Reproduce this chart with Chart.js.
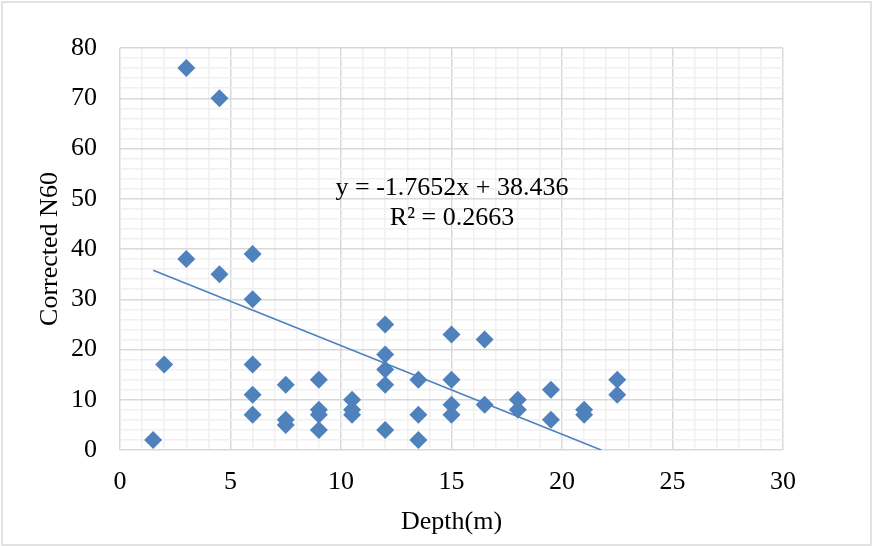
<!DOCTYPE html>
<html>
<head>
<meta charset="utf-8">
<script src="https://cdn.jsdelivr.net/npm/chart.js@4/dist/chart.umd.min.js"></script>
<style>
  html,body{margin:0;padding:0;background:#fff;}
  canvas{display:block;}
</style>
</head>
<body>
<canvas id="c" width="873" height="546"></canvas>
<script>
// Depth (m) vs corrected N60
const depth = [1.5, 2, 3, 3, 4.5, 4.5, 6, 6, 6, 6, 6, 7.5, 7.5, 7.5, 9, 9, 9, 9,
  10.5, 10.5, 10.5, 12, 12, 12, 12, 12, 13.5, 13.5, 13.5, 15, 15, 15, 15,
  16.5, 16.5, 18, 18, 19.5, 19.5, 21, 21, 22.5, 22.5];
const n60 = [2, 17, 76, 38, 70, 35, 39, 30, 17, 11, 7, 13, 6, 5, 14, 8, 7, 4,
  10, 8, 7, 25, 19, 16, 13, 4, 14, 7, 2, 23, 14, 9, 7,
  22, 9, 10, 8, 12, 6, 8, 7, 14, 11];

// trendline as printed on the chart
const slope = -1.7652, intercept = 38.436;
const trendX = [1.5, -intercept / slope];
const eqLines = ['y = -1.7652x + 38.436', 'R\u00b2 = 0.2663'];

const BLUE = '#4f81bd';
const FONT = "'Liberation Serif', 'Times New Roman', serif";
const MAJOR = '#d9d9d9', MINOR = '#f0f0f0';

const points = depth.map((x,i)=>({x, y:n60[i]}));
const trend = trendX.map(x=>({x, y: slope*x + intercept}));

// white background + outer frame + equation text
const Frame = {
  id:'frame',
  beforeDraw(chart){
    const {ctx} = chart;
    ctx.save();
    ctx.fillStyle = '#fff';
    ctx.fillRect(0,0,chart.width,chart.height);
    ctx.strokeStyle = '#d9d9d9';
    ctx.lineWidth = 1.5;
    ctx.strokeRect(2,2,chart.width-4,chart.height-3);
    ctx.restore();
  },
  afterDraw(chart){
    const {ctx} = chart;
    ctx.save();
    ctx.font = '26px ' + FONT;
    ctx.fillStyle = '#000';
    ctx.textAlign = 'center';
    ctx.textBaseline = 'middle';
    ctx.fillText(eqLines[0], 452, 188);
    ctx.fillText(eqLines[1], 452, 218);
    ctx.restore();
  }
};

new Chart(document.getElementById('c'), {
  type:'scatter',
  data:{ datasets:[
    {label:'Trend', type:'line', data:trend, borderColor:BLUE, borderWidth:1.6,
     pointRadius:0, fill:false, order:0},
    {label:'N60', data:points, pointStyle:'rectRot', pointRadius:9, pointHoverRadius:9,
     backgroundColor:BLUE, borderColor:BLUE, borderWidth:0, order:1}
  ]},
  options:{
    responsive:false,
    animation:false,
    devicePixelRatio:1,
    layout:{padding:{left:0, right:90, top:48, bottom:0}},
    plugins:{legend:{display:false}, tooltip:{enabled:false}},
    scales:{
      x:{
        type:'linear', min:0, max:30,
        ticks:{stepSize:1, padding:17, color:'#000', font:{family:FONT, size:26},
          autoSkip:false, maxRotation:0,
          callback:v=> v%5===0 ? String(v) : ''},
        grid:{drawTicks:false, color:c=> c.tick && c.tick.value%5===0 ? MAJOR : MINOR, lineWidth:1.5},
        border:{display:false},
        title:{display:true, text:'Depth(m)', color:'#000', font:{family:FONT, size:26}, padding:{top:0,bottom:8}},
        afterFit(s){ s.height = 96; }
      },
      y:{
        type:'linear', min:0, max:80,
        ticks:{stepSize:2, padding:23, color:'#000', font:{family:FONT, size:26},
          autoSkip:false,
          callback:v=> v%10===0 ? String(v) : ''},
        grid:{drawTicks:false, color:c=> c.tick && c.tick.value%10===0 ? MAJOR : MINOR, lineWidth:1.5},
        border:{display:false},
        title:{display:true, text:'Corrected N60', color:'#000', font:{family:FONT, size:26}, padding:{top:35,bottom:0}},
        afterFit(s){ s.width = 120; }
      }
    }
  },
  plugins:[Frame]
});
</script>
</body>
</html>
